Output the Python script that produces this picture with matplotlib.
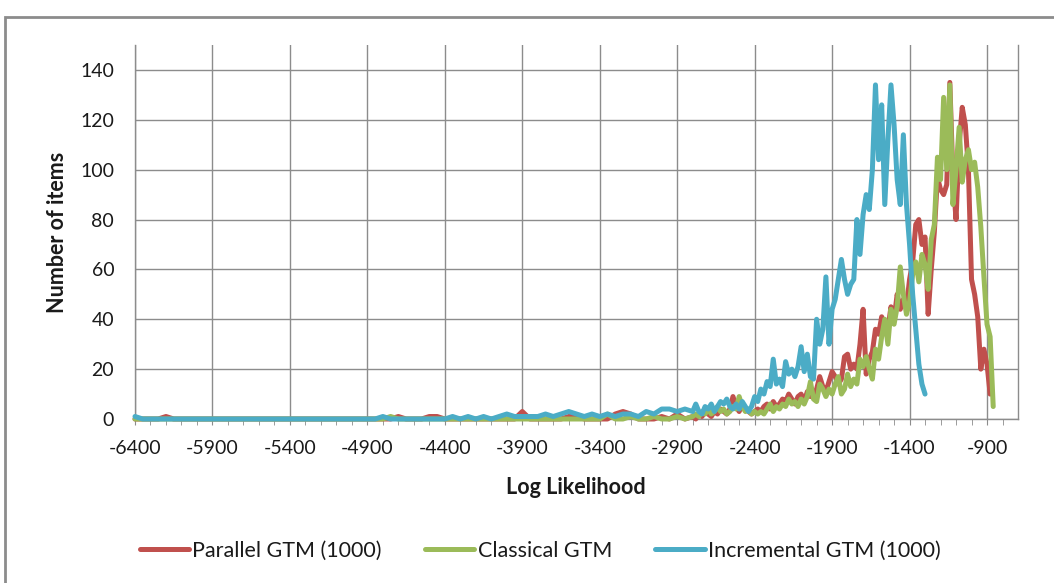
import numpy as np
import matplotlib
matplotlib.use("Agg")
import matplotlib.pyplot as plt
from matplotlib.patches import Rectangle

plt.rcParams['font.family'] = ['Lato', 'DejaVu Sans']
plt.rcParams['axes.unicode_minus'] = False

# bin centres: coarse in the flat tail, finer where the curves rise
x_tail = np.arange(-6400, -2800, 50)

# --- flat tail, -6400 .. -2850 (step 50)
red_tail = [0, 0, 0, 0, 1, 0, 0, 0, 0, 0, 0, 0, 0, 0, 0, 0, 0, 0, 0, 0,
            0, 0, 0, 0, 0, 0, 0, 0, 0, 0, 0, 0, 0, 0, 1, 0, 0, 0, 1, 1,
            0, 0, 0, 0, 0, 0, 0, 0, 0, 0, 3, 0, 0, 0, 0, 0, 1, 1, 0, 0,
            0, 0, 2, 3, 2, 0, 0, 0, 1, 0, 2, 0]
green_tail = [0, 0, 0, 0, 0, 0, 0, 0, 0, 0, 0, 0, 0, 0, 0, 0, 0, 0, 0, 0,
              0, 0, 0, 0, 0, 0, 0, 0, 0, 0, 0, 0, 0, 1, 0, 0, 0, 0, 0, 0,
              0, 0, 0, 0, 0, 0, 0, 0, 0, 0, 0, 0, 0, 0, 0, 0, 0, 0, 0, 0,
              0, 2, 0, 0, 1, 0, 0, 1, 0, 0, 1, 0]
blue_tail = [1, 0, 0, 0, 0, 0, 0, 0, 0, 0, 0, 0, 0, 0, 0, 0, 0, 0, 0, 0,
             0, 0, 0, 0, 0, 0, 0, 0, 0, 0, 0, 0, 1, 0, 0, 0, 0, 0, 0, 0,
             0, 1, 0, 1, 0, 1, 0, 1, 2, 1, 1, 1, 1, 2, 1, 2, 3, 2, 1, 2,
             1, 2, 1, 2, 2, 1, 3, 2, 4, 4, 3, 4]

# --- rising part from -2800 (step 20)
red_main = [1, 0, 2, 1, 3, 2, 1, 3, 2, 4, 3, 2, 4, 9, 5, 3, 6, 4, 3, 2,
            3, 4, 3, 5, 6, 4, 7, 5, 6, 8, 7, 10, 8, 6, 9, 10, 7, 11, 9, 10,
            12, 17, 13, 11, 15, 19, 17, 14, 16, 25, 26, 20, 22, 20, 30, 44, 18, 24, 27, 36,
            34, 41, 38, 36, 45, 40, 50, 44, 48, 45, 56, 63, 78, 80, 70, 73, 42, 60, 75, 97,
            92, 90, 94, 135, 97, 80, 110, 125, 118, 100, 56, 50, 41, 20, 28, 22, 10]
green_main = [1, 2, 1, 3, 2, 4, 2, 3, 5, 3, 4, 2, 3, 5, 4, 9, 5, 3, 4, 2,
              3, 2, 3, 2, 4, 6, 3, 5, 4, 6, 5, 8, 6, 7, 5, 8, 6, 9, 15, 8,
              7, 14, 12, 9, 12, 10, 14, 17, 10, 12, 18, 13, 16, 14, 24, 21, 25, 20, 16, 28,
              24, 33, 40, 30, 44, 38, 45, 61, 50, 42, 47, 58, 63, 55, 66, 62, 52, 72, 78, 105,
              96, 129, 100, 134, 86, 100, 117, 95, 104, 108, 100, 103, 93, 77, 57, 38, 33, 5]
blue_main = [3, 6, 3, 2, 5, 4, 6, 3, 5, 7, 6, 8, 5, 4, 6, 4, 7, 5, 3, 5,
             9, 7, 12, 10, 15, 13, 24, 14, 16, 13, 23, 18, 20, 17, 21, 29, 19, 26, 17, 16,
             40, 30, 36, 57, 30, 44, 48, 56, 64, 56, 50, 54, 56, 80, 66, 82, 90, 84, 100, 134,
             104, 126, 86, 112, 134, 118, 96, 86, 114, 86, 70, 50, 36, 22, 14, 10]

series = [
    ("Parallel GTM (1000)", red_tail, red_main, "#C0504D"),
    ("Classical GTM", green_tail, green_main, "#9BBB59"),
    ("Incremental GTM (1000)", blue_tail, blue_main, "#4BACC6"),
]

fig = plt.figure(figsize=(10.54, 5.83), dpi=100)
ax = fig.add_axes([135 / 1054, 1 - 419 / 583, (1018 - 135) / 1054, (419 - 45) / 583])

for name, tail, main, col in series:
    xs = np.concatenate([x_tail, np.arange(-2800, -2800 + 20 * len(main), 20)])
    ys = np.concatenate([tail, main])
    ax.plot(xs, ys, color=col, lw=3.6, label=name, solid_joinstyle='round',
            solid_capstyle='round', clip_on=False, zorder=3)

grid_col = "#8c8c8c"
txt_col = "#1a1a1a"
ax.set_xlim(-6400, -700)
ax.set_ylim(0, 150)
ax.set_xticks(np.arange(-6400, -899, 500))
ax.set_xticks(np.arange(-6400, -700, 100), minor=True)
ax.set_yticks(np.arange(0, 141, 20))
ax.grid(True, which='major', color=grid_col, lw=1)
ax.set_axisbelow(True)

ax.spines['top'].set_visible(False)
for s in ('left', 'bottom', 'right'):
    ax.spines[s].set_color(grid_col)
    ax.spines[s].set_linewidth(1)

ax.tick_params(axis='x', which='both', direction='out', length=4, color=grid_col,
               labelsize=14, labelcolor=txt_col, pad=11)
ax.tick_params(axis='y', length=0, labelsize=14, labelcolor=txt_col, pad=15)

fig.text(576 / 1054, 1 - 487 / 583, "Log Likelihood", ha='center', va='center',
         fontsize=15.5, fontweight='bold', color=txt_col)
fig.text(58 / 1054, 1 - 232 / 583, "Number of items", ha='center', va='center',
         rotation=90, fontsize=15.5, fontweight='bold', color=txt_col)

fig.legend(loc='center', bbox_to_anchor=(540 / 1054, 1 - 551 / 583), ncol=3,
           frameon=False, fontsize=15.5, handlelength=2.3, handletextpad=0.15,
           columnspacing=2.0, labelcolor=txt_col)

# outer chart frame (only top and left edge are inside the picture)
fig.patches.append(Rectangle((5 / 1054, -0.2), 1.2, 0.2 + (583 - 17) / 583,
                             transform=fig.transFigure, fill=False,
                             edgecolor=grid_col, lw=2))

fig.savefig("out.png", dpi=100)
